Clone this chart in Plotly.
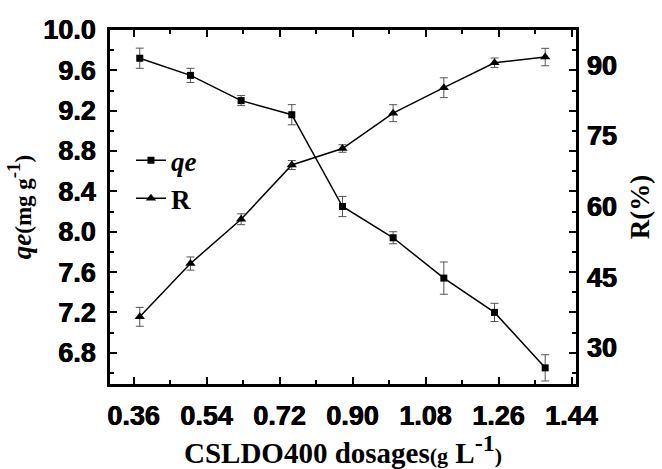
import plotly.graph_objects as go

dosage = [0.375, 0.5, 0.625, 0.75, 0.875, 1.0, 1.125, 1.25, 1.375]
qe = [9.72, 9.55, 9.30, 9.16, 8.25, 7.94, 7.54, 7.20, 6.65]
qe_err = [0.10, 0.07, 0.05, 0.10, 0.10, 0.06, 0.16, 0.09, 0.13]
R = [36.6, 47.9, 57.3, 68.8, 72.3, 79.8, 85.2, 90.5, 91.7]
R_err = [2.0, 1.4, 1.15, 0.95, 0.8, 1.8, 2.1, 1.0, 1.85]

x_ticks = [0.36, 0.54, 0.72, 0.90, 1.08, 1.26, 1.44]
y_ticks = [6.8, 7.2, 7.6, 8.0, 8.4, 8.8, 9.2, 9.6, 10.0]
y2_ticks = [30, 45, 60, 75, 90]

TICKFONT = dict(family="Liberation Sans, Arial, sans-serif", size=27, color="black",
                shadow="0.4px 0 0 black, -0.4px 0 0 black")
SERIF = "Liberation Serif, Times New Roman, serif"

fig = go.Figure()
fig.add_trace(go.Scatter(
    x=dosage, y=qe, name="<b><i>qe</i></b>", mode="lines+markers",
    line=dict(color="black", width=1.5),
    marker=dict(symbol="square", size=7, color="black"),
    error_y=dict(type="data", array=qe_err, color="#555", thickness=1, width=4),
))
fig.add_trace(go.Scatter(
    x=dosage, y=R, name="<b>R</b>", mode="lines+markers", yaxis="y2",
    line=dict(color="black", width=1.5),
    marker=dict(symbol="triangle-up", size=9, color="black"),
    error_y=dict(type="data", array=R_err, color="#555", thickness=1, width=4),
))

fig.update_layout(
    width=662, height=469,
    margin=dict(l=110, r=79, t=30, b=79),
    paper_bgcolor="white", plot_bgcolor="white",
    showlegend=True,
    legend=dict(x=0.045, y=0.70, xanchor="left", yanchor="top",
                bgcolor="rgba(0,0,0,0)", itemwidth=30, tracegroupgap=0,
                font=dict(family=SERIF, size=27, color="black")),
    xaxis=dict(
        range=[0.3016, 1.451], tickvals=x_ticks,
        ticktext=[f"<b>{v:.2f}</b>" for v in x_ticks],
        ticks="inside", ticklen=7, tickwidth=2, tickcolor="black",
        minor=dict(dtick=0.09, tick0=0.36, ticks="inside", ticklen=4, tickwidth=2, tickcolor="black"),
        showline=True, linecolor="black", linewidth=2.5, mirror="ticks",
        showgrid=False, zeroline=False, tickfont=TICKFONT, ticklabelstandoff=6,
        title=dict(text="<b>CSLDO400 dosages<span style='font-size:22px'>(g</span> L<sup><span style='font-size:24px'>-1</span></sup><span style='font-size:22px'>)</span></b>",
                   font=dict(family=SERIF, size=29, color="black"), standoff=6),
    ),
    yaxis=dict(
        range=[6.49, 10.0], tickvals=y_ticks,
        ticktext=[f"<b>{v:.1f}</b>" for v in y_ticks],
        ticks="inside", ticklen=7, tickwidth=2, tickcolor="black",
        minor=dict(dtick=0.2, tick0=6.8, ticks="inside", ticklen=4, tickwidth=2, tickcolor="black"),
        showline=True, linecolor="black", linewidth=2.5, mirror="ticks",
        showgrid=False, zeroline=False, tickfont=TICKFONT, ticklabelstandoff=6,
        title=dict(text="<b><i>qe</i><span style='font-size:23px'>(mg g</span><sup>-1</sup><span style='font-size:23px'>)</span></b>",
                   font=dict(family=SERIF, size=27, color="black"), standoff=4),
    ),
    yaxis2=dict(
        range=[22.35, 97.44], overlaying="y", side="right",
        tickvals=y2_ticks, ticktext=[f"<b>{v}</b>" for v in y2_ticks],
        ticks="", showline=False, showgrid=False, zeroline=False,
        tickfont=TICKFONT, ticklabelstandoff=10,
        title=dict(text="<b>R(%)</b>", font=dict(family=SERIF, size=27, color="black"), standoff=14),
    ),
)

fig.write_html("out.html")
